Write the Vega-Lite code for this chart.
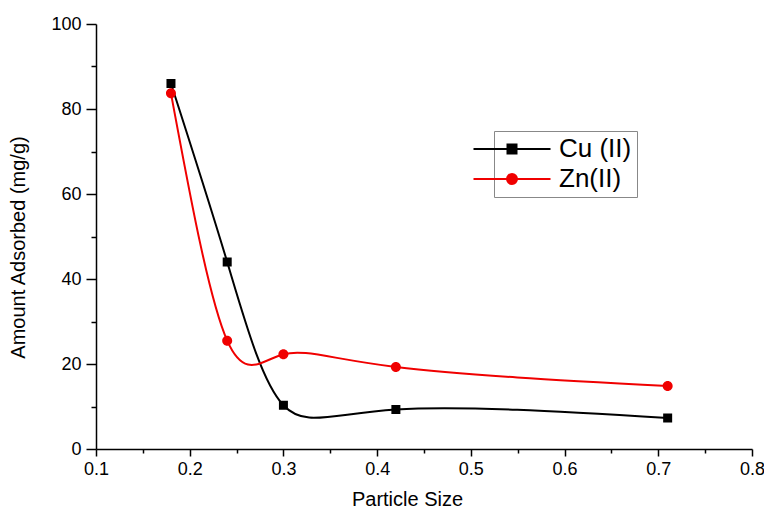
{
  "$schema": "https://vega.github.io/schema/vega-lite/v6.json",
  "width": 656,
  "height": 425,
  "autosize": "none",
  "padding": {"left": 96, "top": 24, "right": 12, "bottom": 61},
  "background": "white",
  "config": {
    "view": {"stroke": null},
    "font": "Liberation Sans",
    "axis": {
      "grid": false,
      "domainColor": "black",
      "domainWidth": 1.5,
      "tickColor": "black",
      "tickWidth": 1.5,
      "labelColor": "black",
      "labelFont": "Liberation Sans",
      "labelFontSize": 18,
      "titleColor": "black",
      "titleFont": "Liberation Sans",
      "titleFontSize": 20,
      "titleFontWeight": "normal",
      "labelOverlap": false,
      "labelFlush": false
    },
    "legend": {
      "title": null,
      "orient": "none",
      "legendX": 398,
      "legendY": 107,
      "padding": 5,
      "strokeColor": "#888888",
      "fillColor": "white",
      "labelFont": "Liberation Sans",
      "labelFontSize": 26,
      "labelColor": "black",
      "symbolSize": 400,
      "symbolStrokeWidth": 2,
      "labelOffset": 34,
      "rowPadding": 4
    }
  },
  "data": {
    "values": [
      {"series": "Cu (II)", "size": 0.18, "amount": 86.0},
      {"series": "Cu (II)", "size": 0.24, "amount": 44.0},
      {"series": "Cu (II)", "size": 0.30, "amount": 10.3},
      {"series": "Cu (II)", "size": 0.42, "amount": 9.3},
      {"series": "Cu (II)", "size": 0.71, "amount": 7.3},
      {"series": "Zn(II)", "size": 0.18, "amount": 83.7},
      {"series": "Zn(II)", "size": 0.24, "amount": 25.5},
      {"series": "Zn(II)", "size": 0.30, "amount": 22.3},
      {"series": "Zn(II)", "size": 0.42, "amount": 19.3},
      {"series": "Zn(II)", "size": 0.71, "amount": 14.8}
    ]
  },
  "encoding": {
    "x": {
      "field": "size",
      "type": "quantitative",
      "title": "Particle Size",
      "scale": {"domain": [0.1, 0.8], "nice": false, "zero": false},
      "axis": {
        "values": [0.1, 0.15, 0.2, 0.25, 0.3, 0.35, 0.4, 0.45, 0.5, 0.55, 0.6, 0.65, 0.7, 0.75, 0.8],
        "labelExpr": "abs(datum.value*10 - round(datum.value*10)) < 0.01 ? format(datum.value, '.1f') : ''",
        "tickSize": {"condition": {"test": "abs(datum.value*10 - round(datum.value*10)) < 0.01", "value": 7}, "value": 4},
        "labelPadding": 4,
        "titlePadding": 11,
        "titleX": 311
      }
    },
    "y": {
      "field": "amount",
      "type": "quantitative",
      "title": "Amount Adsorbed (mg/g)",
      "scale": {"domain": [0, 100], "nice": false},
      "axis": {
        "values": [0, 10, 20, 30, 40, 50, 60, 70, 80, 90, 100],
        "labelExpr": "datum.value % 20 == 0 ? datum.value : ''",
        "tickSize": {"condition": {"test": "datum.value % 20 == 0", "value": 10}, "value": 5},
        "labelPadding": 5,
        "titlePadding": 22,
        "titleY": 223
      }
    }
  },
  "layer": [
    {
      "mark": {"type": "line", "interpolate": "natural", "strokeWidth": 2},
      "encoding": {
        "color": {
          "field": "series",
          "type": "nominal",
          "scale": {"domain": ["Cu (II)", "Zn(II)"], "range": ["black", "#f00000"]},
          "legend": {
            "encoding": {
              "symbols": {
                "stroke": {"value": {"expr": "scale('color', datum.value)"}},
                "fill": {"value": {"expr": "scale('color', datum.value)"}},
                "strokeWidth": {"value": 2}
              }
            }
          }
        }
      }
    },
    {
      "mark": {"type": "point", "filled": true, "opacity": 1, "size": 400},
      "encoding": {
        "shape": {
          "field": "series",
          "type": "nominal",
          "scale": {
            "domain": ["Cu (II)", "Zn(II)"],
            "range": [
              "M-3.85,0H3.85M-0.45,-0.45H0.45V0.45H-0.45Z",
              "M-3.85,0H3.85M0.5,0A0.5,0.5,0,1,1,-0.5,0A0.5,0.5,0,1,1,0.5,0Z"
            ]
          }
        },
        "color": {
          "field": "series",
          "type": "nominal",
          "scale": {"domain": ["Cu (II)", "Zn(II)"], "range": ["black", "#f00000"]},
          "legend": {
            "encoding": {
              "symbols": {
                "stroke": {"value": {"expr": "scale('color', datum.value)"}},
                "fill": {"value": {"expr": "scale('color', datum.value)"}},
                "strokeWidth": {"value": 2}
              }
            }
          }
        }
      }
    }
  ]
}
